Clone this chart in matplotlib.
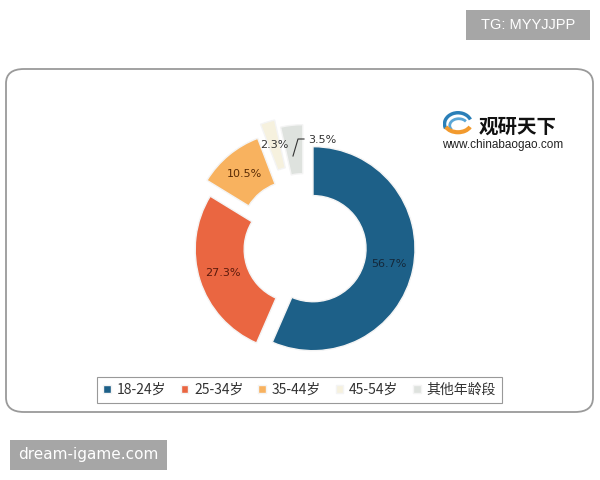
import matplotlib
matplotlib.use("Agg")
import matplotlib.pyplot as plt
from matplotlib.patches import FancyBboxPatch, Rectangle, Arc
import numpy as np

# ---- data ----
categories = ["18-24岁", "25-34岁", "35-44岁", "45-54岁", "其他年龄段"]
values = [56.7, 27.3, 10.5, 2.3, 3.5]
value_labels = ["56.7%", "27.3%", "10.5%", "2.3%", "3.5%"]

colors = ["#1D6088", "#EA6641", "#F8B25F", "#F6F1DE", "#DEE2DE"]
label_colors = ["#14283A", "#5A1A0C", "#5A2C05", "#333333", "#333333"]
explode = [0.08, 0.08, 0.17, 0.28, 0.20]

W, H = 600, 480
fig = plt.figure(figsize=(6, 4.8), dpi=100)
fig.patch.set_facecolor("white")

def fx(x):
    return x / W

def fy(y):
    return 1 - y / H

# outer rounded frame
frame = FancyBboxPatch((fx(6), fy(412)), fx(587), (412 - 69) / H,
                       boxstyle="round,pad=0,rounding_size=0.03",
                       transform=fig.transFigure, facecolor="none",
                       edgecolor="#9A9A9A", linewidth=1.3, zorder=-5)
fig.patches.append(frame)

# pie axes: center (305,247), R = 102 px
cx, cy, R = 305, 247, 102
half = 150
ax = fig.add_axes([fx(cx - half), fy(cy + half), 2 * half / W, 2 * half / H])
ax.patch.set_alpha(0)
lim = half / R

it = iter(value_labels[:-1] + [""])
wedges, texts, autotexts = ax.pie(
    values, colors=colors, explode=explode, startangle=90, counterclock=False,
    radius=1.0, wedgeprops=dict(width=0.48, edgecolor="#F4F4F4", linewidth=1.0),
    autopct=lambda p: next(it), pctdistance=0.76,
    textprops=dict(fontsize=8, family=["DejaVu Sans"]))
for t, c in zip(autotexts, label_colors):
    t.set_color(c)
ax.set_xlim(-lim, lim)
ax.set_ylim(-lim, lim)
ax.set_aspect("equal")
ax.axis("off")

# leader-line label for the last slice
def to_data(px, py):
    return ((px - cx) / R, -(py - cy) / R)

p0 = to_data(293, 156)
p1 = to_data(298, 139)
p2 = to_data(304, 139)
ax.plot([p0[0], p1[0], p2[0]], [p0[1], p1[1], p2[1]], color="#333333", lw=0.8)
tx, ty = to_data(308, 140)
ax.text(tx, ty, value_labels[-1], fontsize=8, color=label_colors[-1],
        ha="left", va="center")

# legend
leg = fig.legend(wedges, categories, loc="center", ncol=5, mode="expand",
                 bbox_to_anchor=(fx(97), fy(404), 405 / W, 28 / H),
                 borderaxespad=0.0,
                 frameon=True, fancybox=False, edgecolor="#808080",
                 handlelength=0.55, handleheight=0.55, handletextpad=0.4,
                 columnspacing=1.0, borderpad=0.45,
                 prop=dict(family=["Noto Sans CJK SC", "DejaVu Sans"], size=10))
leg.get_frame().set_linewidth(0.8)
for t in leg.get_texts():
    t.set_color("#333333")

# logo
fig.text(fx(479), fy(127), "观研天下", fontsize=14, fontweight="bold",
         family=["Noto Sans CJK SC"], color="#111111", ha="left", va="center")
fig.text(fx(442), fy(145), "www.chinabaogao.com", fontsize=8.5,
         family=["Liberation Sans"], color="#222222", ha="left", va="center")
lax = fig.add_axes([fx(443), fy(139), 30 / W, 30 / H])
lax.set_xlim(-1, 1)
lax.set_ylim(-1, 1)
lax.set_aspect("equal")
lax.axis("off")
lax.add_patch(Arc((0, 0), 1.8, 1.5, theta1=20, theta2=200, color="#2A7FB8", lw=2.5))
lax.add_patch(Arc((0.05, -0.1), 1.2, 0.9, theta1=30, theta2=210, color="#5AA6D6", lw=2))
lax.add_patch(Arc((0, 0.1), 1.8, 1.3, theta1=200, theta2=340, color="#F29A2E", lw=3))

# watermarks
fig.patches.append(Rectangle((fx(466), fy(40)), 124 / W, 30 / H,
                             transform=fig.transFigure, facecolor="#A6A6A6",
                             edgecolor="none"))
fig.text(fx(528), fy(25), "TG: MYYJJPP", fontsize=10.5, color="white",
         ha="center", va="center", family=["Liberation Sans"])
fig.patches.append(Rectangle((fx(10), fy(470)), 157 / W, 30 / H,
                             transform=fig.transFigure, facecolor="#A6A6A6",
                             edgecolor="none"))
fig.text(fx(88), fy(455), "dream-igame.com", fontsize=11, color="white",
         ha="center", va="center", family=["DejaVu Sans"])

fig.savefig("out.png", dpi=100, facecolor="white")
